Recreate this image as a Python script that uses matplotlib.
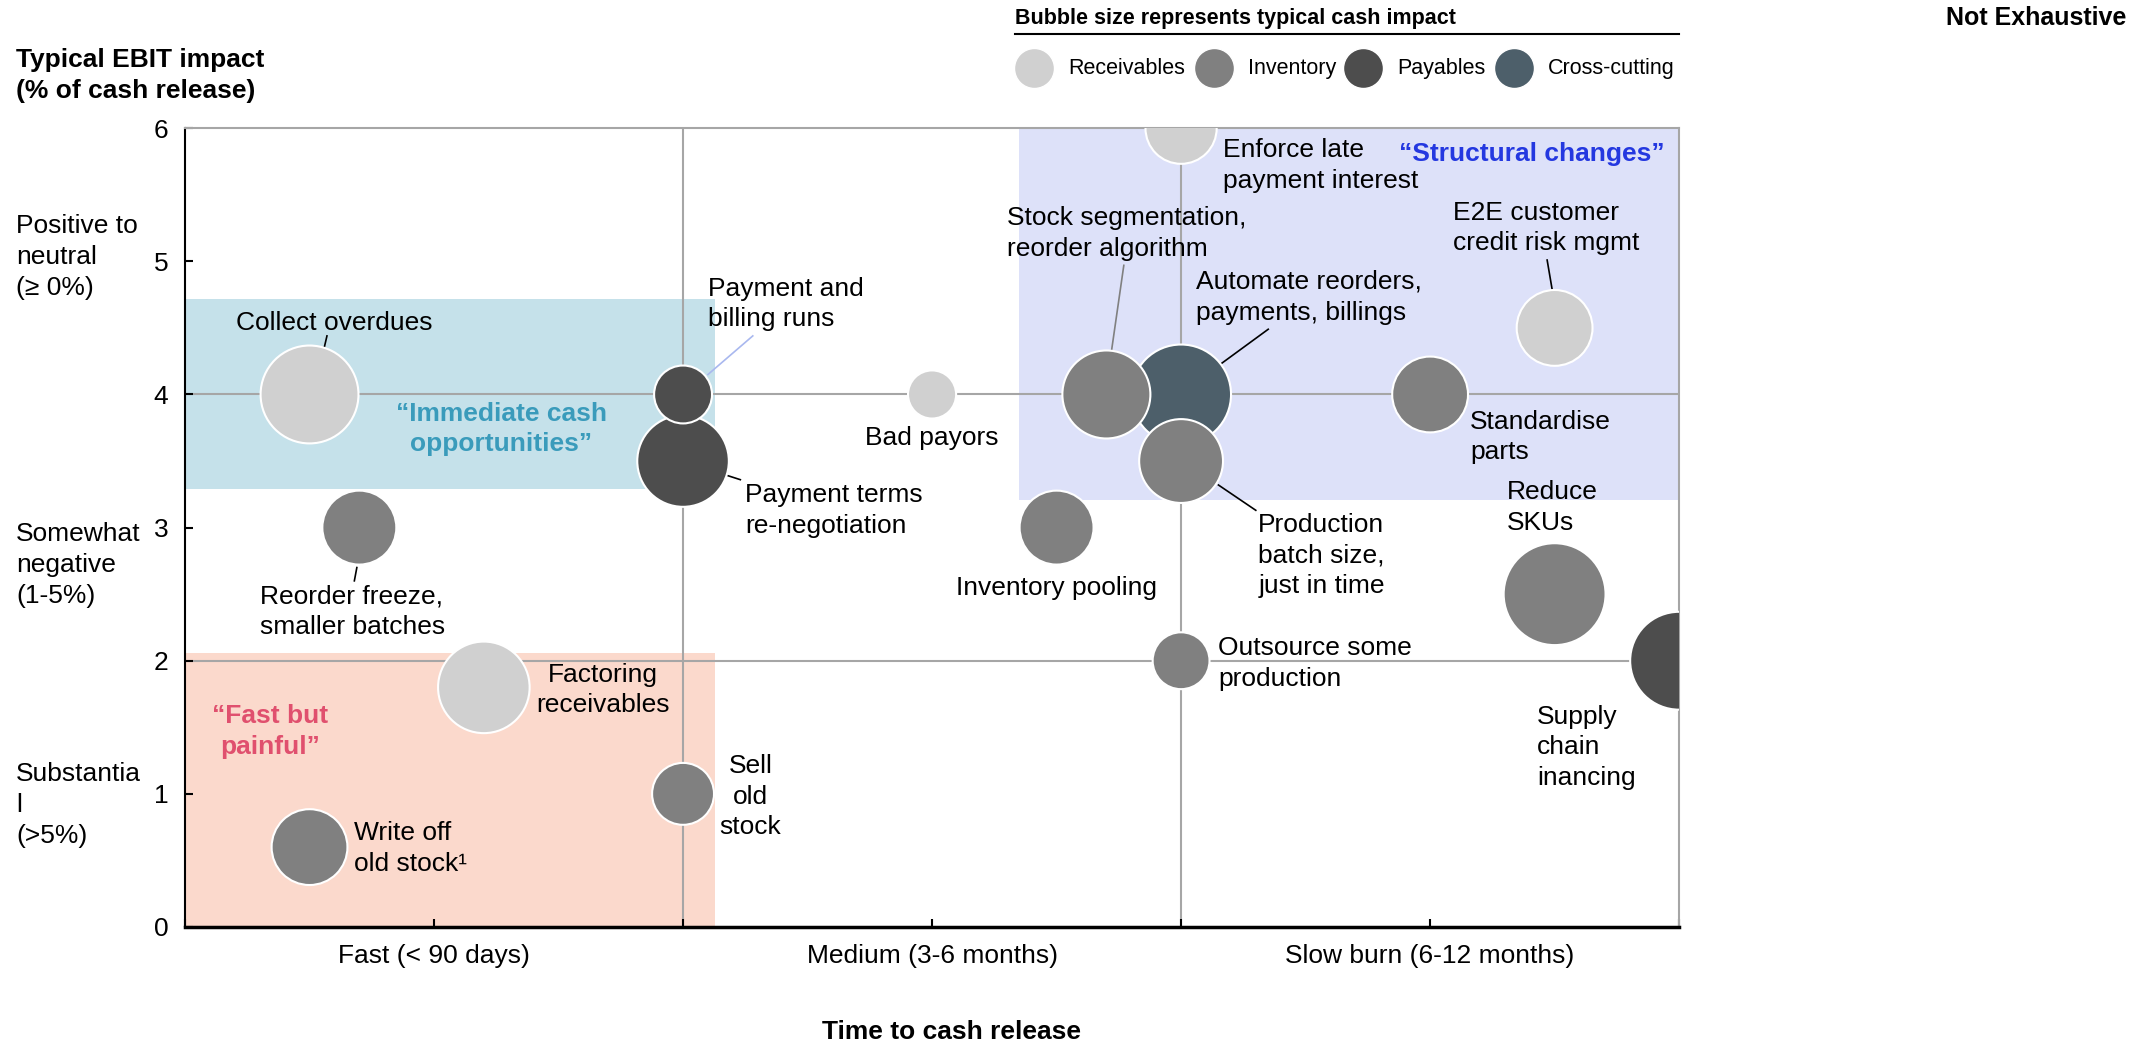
import matplotlib.pyplot as plt
from matplotlib.lines import Line2D

plt.rcParams['font.family'] = ['Liberation Sans', 'DejaVu Sans']

# ================================
# Data
# ================================
levers = [
    "Collect overdues", "Payment terms re-negotiation", "Payment and billing runs",
    "Reorder freeze, smaller batches", "Factoring receivables", "Write off old stock",
    "Sell old stock", "Bad payors", "Inventory pooling", "Automate reorders, payments, billings",
    "Stock segmentation, reorder algorithm", "Production batch size, just in time",
    "Enforce late payment interest", "Outsource some production", "Standardise parts",
    "E2E customer credit risk mgmt", "Reduce SKUs", "Supply chain financing",
]
time_to_cash = [0.5, 2, 2, 0.7, 1.2, 0.5, 2, 3, 3.5, 4, 3.7, 4, 4, 4, 5, 5.5, 5.5, 6]
ebit_impact = [4, 3.5, 4, 3, 1.8, 0.6, 1, 4, 3, 4, 4, 3.5, 6, 2, 4, 4.5, 2.5, 2]
cash_impact = [24, 21, 8.4, 13.7, 21, 14.4, 9.6, 5.8, 13.7, 25, 19.4, 17.6,
               12.7, 8.1, 14.4, 14.4, 26, 24]
category = [
    "Receivables", "Payables", "Payables", "Inventory", "Receivables", "Inventory",
    "Inventory", "Receivables", "Inventory", "Cross-cutting", "Inventory", "Inventory",
    "Receivables", "Inventory", "Inventory", "Receivables", "Inventory", "Payables",
]

categories = ["Receivables", "Inventory", "Payables", "Cross-cutting"]
cat_colors = {"Receivables": "#d0d0d0", "Inventory": "#808080",
              "Payables": "#4d4d4d", "Cross-cutting": "#4d5f6a"}

x_labels = ["", "Fast (< 90 days)", "", "Medium (3-6 months)", "", "Slow burn (6-12 months)", ""]
y_bands = ["Positive to\nneutral\n(\u2265 0%)", "Somewhat\nnegative\n(1-5%)", "Substantia\nl\n(>5%)"]

LS = 1.35  # line spacing of multi-line texts

# ================================
# Figure
# ================================
fig = plt.figure(figsize=(21.39, 10.51), dpi=100)
ax = fig.add_axes([0.0865, 0.118, 0.6985, 0.760])
ax.set_xlim(0, 6)
ax.set_ylim(0, 6)

# shaded zones
ax.fill_between([0, 2.13], 3.29, 4.72, color="#c5e1ea", lw=0, zorder=0)
ax.fill_between([3.35, 6], 3.21, 6, color="#dde1f9", lw=0, zorder=0)
ax.fill_between([0, 2.13], 0, 2.06, color="#fbd9cc", lw=0, zorder=0)

# quadrant lines
for v in [2, 4]:
    ax.axvline(v, color="#a6a6a6", lw=1.5, zorder=1)
    ax.axhline(v, color="#a6a6a6", lw=1.5, zorder=1)

# bubbles
ax.scatter(time_to_cash, ebit_impact, s=[c * 207 for c in cash_impact],
           c=[cat_colors[c] for c in category], edgecolors="white", linewidths=1.5, zorder=3)

# axes styling
for side in ["top", "right"]:
    ax.spines[side].set_color("#a6a6a6")
    ax.spines[side].set_linewidth(1.5)
ax.spines["left"].set_linewidth(1.5)
ax.spines["bottom"].set_linewidth(2.5)
ax.set_xticks(range(7))
ax.set_xticklabels(x_labels)
ax.set_yticks(range(7))
ax.tick_params(axis="both", direction="in", length=6, width=1.5, labelsize=19, pad=12)

# region titles
ax.text(1.27, 3.74, "\u201cImmediate cash\nopportunities\u201d", color="#3a9bbb",
        fontsize=19, fontweight="bold", ha="center", va="center", linespacing=LS, zorder=4)
ax.text(5.41, 5.81, "\u201cStructural changes\u201d", color="#2438e0",
        fontsize=19, fontweight="bold", ha="center", va="center", zorder=4)
ax.text(0.34, 1.47, "\u201cFast but\npainful\u201d", color="#e0506e",
        fontsize=19, fontweight="bold", ha="center", va="center", linespacing=LS, zorder=4)

# bubble labels: text, x, y, ha, leader line
labels = [
    ("Collect overdues", 0.60, 4.54, "center", (0.57, 4.44, 0.56, 4.36), "black"),
    ("Payment and\nbilling runs", 2.10, 4.68, "left", (2.28, 4.44, 2.10, 4.15), "#a9b8ef"),
    ("Payment terms\nre-negotiation", 2.25, 3.13, "left", (2.18, 3.39, 2.23, 3.36), "black"),
    ("Reorder freeze,\nsmaller batches", 0.30, 2.37, "left", (0.69, 2.70, 0.68, 2.60), "black"),
    ("Factoring\nreceivables", 1.68, 1.78, "center", None, None),
    ("Write off\nold stock\u00b9", 0.68, 0.59, "left", None, None),
    ("Sell\nold\nstock", 2.27, 0.98, "center", None, None),
    ("Bad payors", 3.0, 3.67, "center", None, None),
    ("Inventory pooling", 3.5, 2.55, "center", None, None),
    ("Production\nbatch size,\njust in time", 4.31, 2.79, "left", (4.15, 3.32, 4.30, 3.13), "black"),
    ("Standardise\nparts", 5.16, 3.68, "left", None, None),
    ("Reduce\nSKUs", 5.31, 3.15, "left", None, None),
    ("Outsource some\nproduction", 4.15, 1.98, "left", None, None),
    ("Supply\nchain\ninancing", 5.43, 1.35, "left", None, None),
    ("Enforce late\npayment interest", 4.17, 5.72, "left", None, None),
    ("Stock segmentation,\nreorder algorithm", 3.30, 5.21, "left", (3.77, 4.97, 3.72, 4.32), "#808080"),
    ("Automate reorders,\npayments, billings", 4.06, 4.73, "left", (4.35, 4.49, 4.16, 4.23), "black"),
    ("E2E customer\ncredit risk mgmt", 5.09, 5.25, "left", (5.47, 5.01, 5.49, 4.79), "black"),
]
for txt, tx, ty, ha, leader, lc in labels:
    ax.text(tx, ty, txt, fontsize=19, ha=ha, va="center", linespacing=LS, zorder=5)
    if leader:
        ax.plot([leader[0], leader[2]], [leader[1], leader[3]], color=lc, lw=1.2, zorder=2)

# axis titles and band labels
fig.text(0.0075, 0.928, "Typical EBIT impact\n(% of cash release)", fontsize=19,
         fontweight="bold", ha="left", va="center", linespacing=LS)
for lbl, yy in zip(y_bands, [0.7555, 0.4624, 0.234]):
    fig.text(0.0075, yy, lbl, fontsize=19, ha="left", va="center", linespacing=LS)
fig.text(0.445, 0.018, "Time to cash release", fontsize=19, fontweight="bold",
         ha="center", va="center")
fig.text(0.994, 0.983, "Not Exhaustive", fontsize=18, fontweight="bold",
         ha="right", va="center")

# legend
fig.text(0.4745, 0.982, "Bubble size represents typical cash impact", fontsize=15.5,
         fontweight="bold", ha="left", va="center")
fig.add_artist(Line2D([0.4745, 0.785], [0.9676, 0.9676], color="black", lw=1.5,
                      transform=fig.transFigure))
leg_x = [1034, 1214, 1363, 1514]
for cat, px in zip(categories, leg_x):
    fx = px / 2139
    fig.add_artist(Line2D([fx], [0.935], marker="o", markersize=28.8, color=cat_colors[cat],
                          markeredgecolor="white", transform=fig.transFigure, linestyle=""))
    fig.text(fx + 0.016, 0.935, cat, fontsize=15.5, ha="left", va="center")

plt.savefig("out.png", dpi=100)
